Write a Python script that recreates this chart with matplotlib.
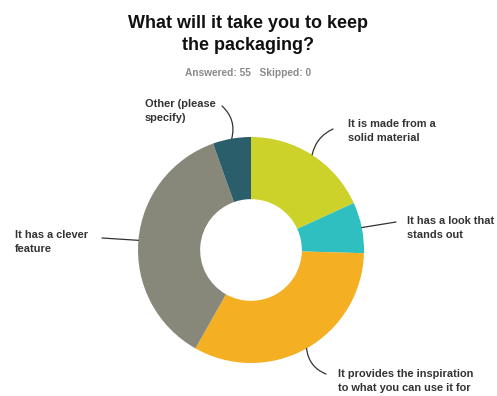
import numpy as np
import matplotlib.pyplot as plt

# survey answers (55 respondents), clockwise from 12 o'clock
labels = [
    "It is made from a\nsolid material",
    "It has a look that\nstands out",
    "It provides the inspiration\nto what you can use it for",
    "It has a clever\nfeature",
    "Other (please\nspecify)",
]
counts = [10, 4, 18, 20, 3]
colors = ["#CDD22B", "#2FBFC0", "#F5AF22", "#878879", "#2B5E6B"]

title = "What will it take you to keep\nthe packaging?"
subtitle = "Answered: 55   Skipped: 0"

W, H = 497, 396
CX, CY, R = 251, 250, 113

# label text (left x, top y) and leader start, in pixels
label_pos = [(348, 119), (407, 216), (338, 369), (15, 230), (145, 99)]
leader_start = [(333, 129), (396, 222), (326, 374), (102, 238), (222, 106)]
leader_rad = [0.25, 0.0, -0.3, 0.0, -0.3]


def to_data(px, py):
    return (px - CX) / R, (CY - py) / R


fig = plt.figure(figsize=(W / 100, H / 100), dpi=100)
fig.patch.set_facecolor("white")
ax = fig.add_axes([(CX - R) / W, (H - CY - R) / H, 2 * R / W, 2 * R / H])

wedges, _ = ax.pie(counts, colors=colors, startangle=90, counterclock=False,
                   radius=1.0, wedgeprops=dict(width=0.55, linewidth=0))
ax.set_xlim(-1, 1)
ax.set_ylim(-1, 1)
ax.set_aspect("equal")
ax.axis("off")

for w, lab, (tx, ty), (sx, sy), rad in zip(wedges, labels, label_pos,
                                           leader_start, leader_rad):
    mid = np.deg2rad((w.theta1 + w.theta2) / 2)
    ex, ey = np.cos(mid), np.sin(mid)
    ax.annotate("", xy=(ex, ey), xytext=to_data(sx, sy),
                arrowprops=dict(arrowstyle="-", color="#333333", lw=0.9,
                                shrinkA=0, shrinkB=0,
                                connectionstyle=f"arc3,rad={rad}"),
                annotation_clip=False)
    ax.text(*to_data(tx, ty), lab, ha="left", va="top", fontsize=7.9,
            fontweight="bold", color="#333333", family="Liberation Sans",
            linespacing=1.45, clip_on=False)

fig.text(0.5, 1 - 15 / H, title, ha="center", va="top", fontsize=13,
         fontweight="bold", color="#111111", family="Liberation Sans",
         linespacing=1.38)
fig.text(0.5, 1 - 73 / H, subtitle, ha="center", va="center", fontsize=7.3,
         fontweight="bold", color="#8a8a8a", family="Liberation Sans")

fig.savefig("out.png", dpi=100, facecolor="white")
